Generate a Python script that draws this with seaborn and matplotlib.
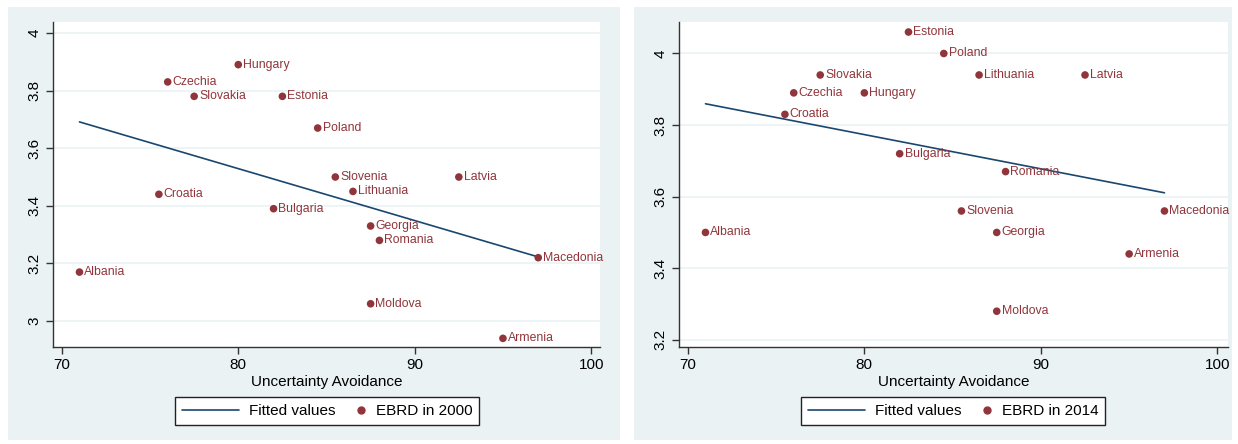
import numpy as np
import pandas as pd
import matplotlib
matplotlib.use("Agg")
import matplotlib.pyplot as plt
from matplotlib.patches import Rectangle
from matplotlib.lines import Line2D
from matplotlib.legend_handler import HandlerLine2D
import seaborn as sns

# Country-level data: uncertainty avoidance score and EBRD transition index
countries = ["Hungary", "Czechia", "Slovakia", "Estonia", "Poland", "Slovenia",
             "Latvia", "Lithuania", "Croatia", "Bulgaria", "Georgia", "Romania",
             "Macedonia", "Albania", "Moldova", "Armenia"]
uncertainty_avoidance = [80, 76, 77.5, 82.5, 84.5, 85.5,
                         92.5, 86.5, 75.5, 82, 87.5, 88,
                         97, 71, 87.5, 95]
ebrd_2000 = [3.89, 3.83, 3.78, 3.78, 3.67, 3.50,
             3.50, 3.45, 3.44, 3.39, 3.33, 3.28,
             3.22, 3.17, 3.06, 2.94]
ebrd_2014 = [3.89, 3.89, 3.94, 4.06, 4.00, 3.56,
             3.94, 3.94, 3.83, 3.72, 3.50, 3.67,
             3.56, 3.50, 3.28, 3.44]

x_ticks = [70, 80, 90, 100]
y_ticks_2000 = [3, 3.2, 3.4, 3.6, 3.8, 4]
y_ticks_2014 = [3.2, 3.4, 3.6, 3.8, 4]

df = pd.DataFrame({"country": countries, "ua": uncertainty_avoidance,
                   "ebrd2000": ebrd_2000, "ebrd2014": ebrd_2014})

sns.set_theme(style="white")
plt.rcParams["font.family"] = ["Liberation Sans", "DejaVu Sans"]
plt.rcParams["text.color"] = "black"

BG = "#EAF2F3"
NAVY = "#1A476F"
MAROON = "#90353B"

W, H = 1238, 444
fig = plt.figure(figsize=(W / 100, H / 100), dpi=100)
fig.patch.set_facecolor("white")


class NarrowMarkerHandler(HandlerLine2D):
    """Marker-only legend entry drawn in a narrow handle box."""
    def legend_artist(self, legend, orig_handle, fontsize, handlebox):
        handlebox.width = 0.55 * fontsize
        return super().legend_artist(legend, orig_handle, fontsize, handlebox)


def px_rect(x0, y0, x1, y1):
    return [x0 / W, 1 - y1 / H, (x1 - x0) / W, (y1 - y0) / H]

# panel backgrounds
for (x0, x1) in [(8, 620), (634, 1232)]:
    fig.patches.append(Rectangle((x0 / W, 1 - 440 / H), (x1 - x0) / W, (440 - 7) / H,
                                 transform=fig.transFigure, facecolor=BG,
                                 edgecolor="none", zorder=-5))

panels = [
    dict(col="ebrd2000", rect=px_rect(53, 22, 600, 347), xlim=(69.5, 100.5),
         ylim=(2.91, 4.038), yticks=y_ticks_2000, legend="EBRD in 2000",
         legend_x=(173 + 481) / 2),
    dict(col="ebrd2014", rect=px_rect(679, 22, 1228, 347), xlim=(69.5, 100.6),
         ylim=(3.18, 4.088), yticks=y_ticks_2014, legend="EBRD in 2014",
         legend_x=(799 + 1107) / 2),
]

for p in panels:
    ax = fig.add_axes(p["rect"])
    ax.set_zorder(1)
    ax.set_facecolor("white")
    for yt in p["yticks"]:
        ax.axhline(yt, color=BG, lw=1.2, zorder=0)
    sns.regplot(data=df, x="ua", y=p["col"], ax=ax, scatter=False, ci=None,
                color=NAVY, line_kws=dict(lw=1.2, zorder=2))
    sns.scatterplot(data=df, x="ua", y=p["col"], ax=ax, color=MAROON,
                    s=30, edgecolor="none", zorder=3, legend=False)
    for _, r in df.iterrows():
        ax.annotate(r["country"], (r["ua"], r[p["col"]]), xytext=(3.5, 0),
                    textcoords="offset points", va="center", ha="left",
                    fontsize=8.8, color=MAROON, zorder=4, annotation_clip=False)
    ax.set_xlim(*p["xlim"])
    ax.set_ylim(*p["ylim"])
    ax.set_xticks(x_ticks)
    ax.set_xticklabels([str(t) for t in x_ticks], fontsize=11)
    ax.set_yticks(p["yticks"])
    ax.set_yticklabels([f"{t:g}" for t in p["yticks"]], fontsize=11,
                       rotation=90, va="center")
    ax.tick_params(axis="both", direction="out", length=5, width=1,
                   color="#333333", labelcolor="black", left=True, bottom=True, pad=3)
    for s in ["top", "right"]:
        ax.spines[s].set_visible(False)
    for s in ["left", "bottom"]:
        ax.spines[s].set_color("#333333")
        ax.spines[s].set_linewidth(1)
    ax.set_xlabel("Uncertainty Avoidance", fontsize=11, labelpad=2, color="black")
    ax.set_ylabel("")

    line_h = Line2D([], [], color=NAVY, lw=1.2)
    dot_h = Line2D([], [], color=MAROON, marker="o", ls="none", markersize=5)
    leg = fig.legend([line_h, dot_h], ["Fitted values", p["legend"]], ncol=2,
                     loc="center", bbox_to_anchor=(p["legend_x"] / W, 1 - 411 / H),
                     fontsize=11, frameon=True, fancybox=False, framealpha=1,
                     edgecolor="#222222", handlelength=3.73, columnspacing=1.44,
                     borderpad=0.45, handletextpad=0.65, borderaxespad=0,
                     handler_map={dot_h: NarrowMarkerHandler()})
    leg.set_zorder(2)
    leg.get_frame().set_linewidth(1)

fig.savefig("out.png", dpi=100, facecolor="white")
